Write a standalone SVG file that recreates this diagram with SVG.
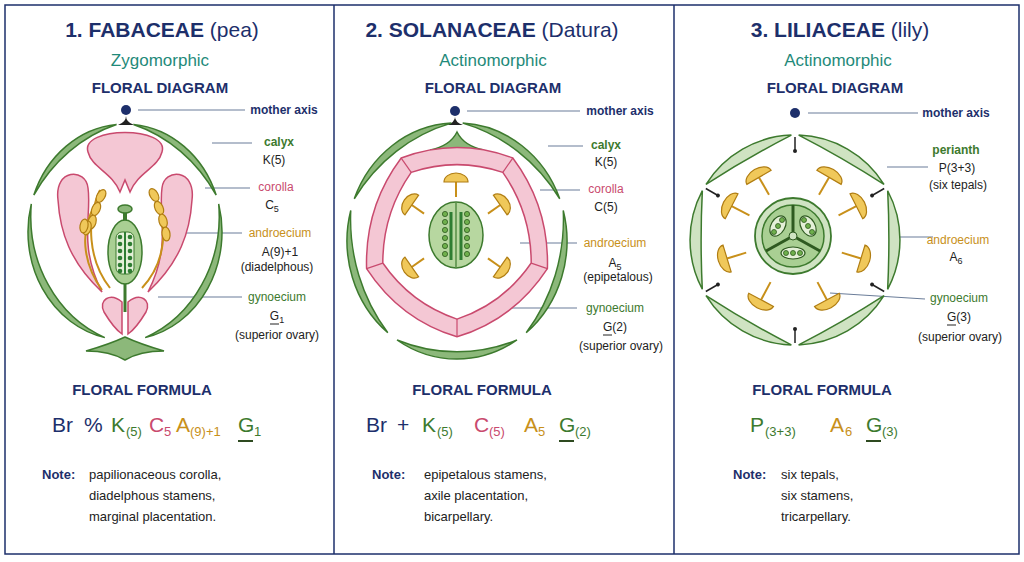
<svg xmlns="http://www.w3.org/2000/svg" width="1024" height="562" viewBox="0 0 1024 562">
<style>
text{font-family:"Liberation Sans",Arial,sans-serif}
.ttl{font-size:21px;font-weight:bold;fill:#1d2f6b;text-anchor:middle}
.sym{font-size:17px;fill:#1f8a7a;text-anchor:middle}
.fd{font-size:15px;font-weight:bold;fill:#1d2f6b;text-anchor:middle}
.lb{font-size:12px;text-anchor:middle}
.nv{fill:#1d2f6b}.gr{fill:#3d7a2e}.pk{fill:#c94a6e}.gd{fill:#c8901a}.bk{fill:#222}
.ld{stroke:#6b7d99;stroke-width:1.2;fill:none}
.cal{fill:#8cb87a;stroke:#3d7a2e;stroke-width:1.5;vector-effect:non-scaling-stroke}
.pet{fill:#f4c7d4;stroke:#c94a6e;stroke-width:1.5}
.anth{fill:#f0c85a;stroke:#b07d12;stroke-width:1.2}
.fil{stroke:#c8901a;stroke-width:2;fill:none}
.ov{fill:#2e7d32}
.ff{font-size:21px}.sb{font-size:13px}
.nt{font-size:13px;fill:#222}
.ntb{font-size:13px;font-weight:bold;fill:#1d2f6b}
</style>
<defs>
<path id="p3tep" class="cal" style="fill:#cfe3c2" d="M 3.7,-104.9 A 105 105 0 0 1 89,-55.6 A 1000 1000 0 0 0 3.7,-104.9 Z"/>
<g id="st2"><line class="fil" x1="0" y1="-54" x2="0" y2="-39"/><path class="anth" d="M -12,-54 A 12 9 0 0 1 12,-54 Z"/></g>
<g id="st3"><line class="fil" x1="0" y1="-70" x2="0" y2="-50"/><path class="anth" d="M -14,-70 A 14 9 0 0 1 14,-70 Z"/></g>
<g id="tick"><line x1="0" y1="-103" x2="0" y2="-89" stroke="#222" stroke-width="1.5"/><circle cx="0" cy="-89" r="2" fill="#222"/></g>
</defs>
<rect x="5" y="5" width="1014" height="549" fill="#fff" stroke="#1d2f6b" stroke-width="1.5"/>
<line x1="334" y1="5" x2="334" y2="554" stroke="#1d2f6b" stroke-width="1.5"/>
<line x1="674" y1="5" x2="674" y2="554" stroke="#1d2f6b" stroke-width="1.5"/>

<g id="connectors">
<line class="ld" x1="138" y1="110" x2="245" y2="110"/>
<line class="ld" x1="212" y1="143" x2="252" y2="143"/>
<line class="ld" x1="205" y1="188" x2="250" y2="188"/>
<line class="ld" x1="180" y1="233" x2="242" y2="233"/>
<line class="ld" x1="158" y1="297" x2="242" y2="297"/>
<line class="ld" x1="467" y1="111" x2="580" y2="111"/>
<line class="ld" x1="548" y1="146" x2="583" y2="146"/>
<line class="ld" x1="540" y1="190" x2="580" y2="190"/>
<line class="ld" x1="520" y1="243" x2="577" y2="243"/>
<line class="ld" x1="512" y1="308" x2="577" y2="308"/>
<line class="ld" x1="808" y1="113" x2="918" y2="113"/>
<line class="ld" x1="887" y1="167" x2="928" y2="167"/>
<line class="ld" x1="897" y1="237" x2="933" y2="237"/>
<line class="ld" x1="830" y1="293" x2="925" y2="299"/>
</g>

<!-- Panel 1 -->
<g id="panel1-title">
<text class="ttl" x="162" y="37">1. FABACEAE <tspan font-weight="normal">(pea)</tspan></text>
<text class="sym" x="160" y="66">Zygomorphic</text>
<text class="fd" x="160" y="93">FLORAL DIAGRAM</text>
</g>
<g id="p1-axis"><circle cx="126" cy="110" r="5" fill="#1d2f6b"/><path d="M 118,125 Q 126,122 126,116 Q 126,122 134,125 Z" fill="#222"/></g>
<g id="p1-calyx">
<g transform="translate(125,232) scale(0.97,1.08)">
<path class="cal" d="M 8.7,-99.6 A 100 100 0 0 1 94,-34.2 A 152 152 0 0 0 8.7,-99.6 Z"/>
<path class="cal" d="M -94,-34.2 A 100 100 0 0 1 -8.7,-99.6 A 152 152 0 0 0 -94,-34.2 Z"/>
<path class="cal" d="M 96.6,-25.9 A 100 100 0 0 1 20.8,97.8 A 121 121 0 0 0 96.6,-25.9 Z"/>
<path class="cal" d="M -20.8,97.8 A 100 100 0 0 1 -96.6,-25.9 A 121 121 0 0 0 -20.8,97.8 Z"/>
</g>
<path class="cal" d="M 86,351 Q 110,344 125,337 Q 140,344 164,351 Q 140,351 125,360 Q 110,351 86,351 Z"/>
</g>
<g id="p1-corolla">
<path class="pet" d="M 88,152 C 80,126 170,126 162,152 C 158,168 138,172 130,192 L 125,180 L 120,192 C 112,172 92,168 88,152 Z"/>
<path class="pet" d="M 58,200 C 54,168 86,168 88,188 C 92,215 78,245 102,292 C 70,262 60,232 58,200 Z"/>
<path class="pet" d="M 192,200 C 196,168 164,168 162,188 C 158,215 172,245 148,292 C 180,262 190,232 192,200 Z"/>
<path class="pet" d="M 122,302 C 110,292 98,300 104,312 C 110,322 116,330 122,334 Z"/>
<path class="pet" d="M 128,302 C 140,292 152,300 146,312 C 140,322 134,330 128,334 Z"/>
</g>
<g id="p1-androecium">
<path class="fil" d="M 100,190 C 86,220 88,260 110,288"/>
<path class="fil" d="M 95,205 C 80,230 82,262 102,290"/>
<ellipse class="anth" cx="101" cy="196" rx="4" ry="7" transform="rotate(30 101 196)"/>
<ellipse class="anth" cx="96" cy="209" rx="4" ry="7" transform="rotate(25 96 209)"/>
<ellipse class="anth" cx="92" cy="222" rx="4" ry="7" transform="rotate(15 92 222)"/>
<ellipse class="anth" cx="87" cy="228" rx="4" ry="7" transform="rotate(15 87 228)"/>
<ellipse class="anth" cx="84" cy="226" rx="4" ry="7" transform="rotate(10 84 226)"/>
<path class="fil" d="M 152,192 C 170,225 166,262 142,288"/>
<ellipse class="anth" cx="154" cy="195" rx="4" ry="7" transform="rotate(-30 154 195)"/>
<ellipse class="anth" cx="159" cy="208" rx="4" ry="7" transform="rotate(-25 159 208)"/>
<ellipse class="anth" cx="163" cy="221" rx="4" ry="7" transform="rotate(-15 163 221)"/>
<ellipse class="anth" cx="166" cy="234" rx="4" ry="7" transform="rotate(-8 166 234)"/>
</g>
<g id="p1-gynoecium">
<line x1="125" y1="212" x2="125" y2="225" stroke="#3d7a2e" stroke-width="4"/>
<ellipse cx="125" cy="209" rx="7" ry="4" class="cal"/>
<line x1="125" y1="282" x2="125" y2="312" stroke="#3d7a2e" stroke-width="3"/>
<ellipse cx="125" cy="252" rx="17" ry="32" fill="#a9cf93" stroke="#3d7a2e" stroke-width="1.5"/>
<rect x="116" y="232" width="18" height="42" rx="6" fill="#e4f0d8" stroke="#3d7a2e"/>
<line x1="125" y1="232" x2="125" y2="274" stroke="#2e7d32" stroke-width="2"/>
<g class="ov">
<circle cx="120" cy="237" r="2.3"/><circle cx="130" cy="237" r="2.3"/>
<circle cx="120" cy="244" r="2.3"/><circle cx="130" cy="244" r="2.3"/>
<circle cx="120" cy="251" r="2.3"/><circle cx="130" cy="251" r="2.3"/>
<circle cx="120" cy="258" r="2.3"/><circle cx="130" cy="258" r="2.3"/>
<circle cx="120" cy="265" r="2.3"/><circle cx="130" cy="265" r="2.3"/>
<circle cx="120" cy="271" r="2.3"/><circle cx="130" cy="271" r="2.3"/>
</g>
</g>
<g id="p1-labels">
<text class="lb nv" x="284" y="114" font-weight="bold">mother axis</text>
<text class="lb gr" x="279" y="146" font-weight="bold">calyx</text>
<text class="lb bk" x="274" y="164">K(5)</text>
<text class="lb pk" x="276" y="191">corolla</text>
<text class="lb bk" x="272" y="209">C<tspan font-size="9" dy="3">5</tspan></text>
<text class="lb gd" x="280" y="237">androecium</text>
<text class="lb bk" x="280" y="256">A(9)+1</text>
<text class="lb bk" x="277" y="271">(diadelphous)</text>
<text class="lb gr" x="277" y="301">gynoecium</text>
<text class="lb bk" x="277" y="320">G<tspan font-size="9" dy="3">1</tspan></text>
<line x1="270" y1="324" x2="279" y2="324" stroke="#222"/>
<text class="lb bk" x="277" y="339">(superior ovary)</text>
</g>
<g id="p1-formula">
<text class="fd" x="142" y="395">FLORAL FORMULA</text>
<text class="ff nv" x="52" y="432">Br</text>
<text class="ff nv" x="84" y="432">%</text>
<text class="ff gr" x="111" y="432">K</text><text class="sb gr" x="126" y="436">(5)</text>
<text class="ff pk" x="149" y="432">C</text><text class="sb pk" x="164" y="436">5</text>
<text class="ff gd" x="176" y="432">A</text><text class="sb gd" x="190" y="436">(9)+1</text>
<text class="ff gr" x="238" y="432">G</text><text class="sb gr" x="254" y="436">1</text>
<line x1="238" y1="441" x2="253" y2="441" stroke="#2e4a20" stroke-width="2"/>
<text class="ntb" x="42" y="479">Note:</text>
<text class="nt" x="89" y="479">papilionaceous corolla,</text>
<text class="nt" x="89" y="500">diadelphous stamens,</text>
<text class="nt" x="89" y="521">marginal placentation.</text>
</g>

<!-- Panel 2 -->
<g id="panel2-title">
<text class="ttl" x="492" y="37">2. SOLANACEAE <tspan font-weight="normal">(Datura)</tspan></text>
<text class="sym" x="493" y="66">Actinomorphic</text>
<text class="fd" x="493" y="93">FLORAL DIAGRAM</text>
</g>
<g id="p2-axis"><circle cx="455" cy="111" r="5" fill="#1d2f6b"/><path d="M 447,125 Q 455,122 455,117 Q 455,122 463,125 Z" fill="#222"/></g>
<g id="p2-calyx">
<g transform="translate(457,241) scale(1.1,1.18)">
<path class="cal" d="M 5.2,-99.9 A 100 100 0 0 1 93.4,-35.8 A 153 153 0 0 0 5.2,-99.9 Z"/>
<path class="cal" d="M 96.6,-25.9 A 100 100 0 0 1 62.9,77.7 A 153 153 0 0 0 96.6,-25.9 Z"/>
<path class="cal" d="M 54.5,83.9 A 100 100 0 0 1 -54.5,83.9 A 153 153 0 0 0 54.5,83.9 Z"/>
<path class="cal" d="M -62.9,77.7 A 100 100 0 0 1 -96.6,-25.9 A 153 153 0 0 0 -62.9,77.7 Z"/>
<path class="cal" d="M -93.4,-35.8 A 100 100 0 0 1 -5.2,-99.9 A 153 153 0 0 0 -93.4,-35.8 Z"/>
</g>
<path class="cal" d="M 430,150 Q 450,146 457,132 Q 464,146 484,150 Z"/>
</g>
<g id="p2-corolla" transform="translate(457,238) scale(1,1.04)">
<path class="pet" fill-rule="evenodd" d="M -55.8,-76.9 Q 0,-97 55.8,-76.9 Q 92.3,-30 90.4,29.4 Q 57,78.5 0,95 Q -57,78.5 -90.4,29.4 Q -92.3,-30 -55.8,-76.9 Z M -45.8,-63.1 Q 0,-78 45.8,-63.1 Q 74.2,-24.1 74.2,24.1 Q 46.3,63.1 0,78 Q -46.3,63.1 -74.2,24.1 Q -74.2,-24.1 -45.8,-63.1 Z"/>
<g stroke="#c94a6e" stroke-width="1.2">
<line x1="-55.8" y1="-76.9" x2="-45.8" y2="-63.1"/><line x1="55.8" y1="-76.9" x2="45.8" y2="-63.1"/>
<line x1="90.4" y1="29.4" x2="74.2" y2="24.1"/><line x1="-90.4" y1="29.4" x2="-74.2" y2="24.1"/>
<line x1="0" y1="95" x2="0" y2="78"/>
</g>
</g>
<g id="p2-androecium" transform="translate(456,236)">
<use href="#st2"/>
<use href="#st2" transform="rotate(55)"/>
<use href="#st2" transform="rotate(125)"/>
<use href="#st2" transform="rotate(235)"/>
<use href="#st2" transform="rotate(305)"/>
</g>
<g id="p2-gynoecium">
<ellipse cx="456" cy="235" rx="27" ry="33" fill="#b7d7a0" stroke="#3d7a2e" stroke-width="1.5"/>
<line x1="456" y1="203" x2="456" y2="267" stroke="#3d7a2e" stroke-width="1.2"/>
<line x1="451" y1="212" x2="451" y2="260" stroke="#2e7d32" stroke-width="3"/>
<line x1="461" y1="212" x2="461" y2="260" stroke="#2e7d32" stroke-width="3"/>
<g stroke="#2e5a20" stroke-width="0.8" fill="#6fb04d">
<circle cx="445" cy="214" r="2.6"/><circle cx="445" cy="222" r="2.6"/><circle cx="445" cy="230" r="2.6"/><circle cx="445" cy="238" r="2.6"/><circle cx="445" cy="246" r="2.6"/><circle cx="445" cy="254" r="2.6"/>
<circle cx="467" cy="214" r="2.6"/><circle cx="467" cy="222" r="2.6"/><circle cx="467" cy="230" r="2.6"/><circle cx="467" cy="238" r="2.6"/><circle cx="467" cy="246" r="2.6"/><circle cx="467" cy="254" r="2.6"/>
</g>
</g>
<g id="p2-labels">
<text class="lb nv" x="620" y="115" font-weight="bold">mother axis</text>
<text class="lb gr" x="606" y="149" font-weight="bold">calyx</text>
<text class="lb bk" x="606" y="166">K(5)</text>
<text class="lb pk" x="606" y="193">corolla</text>
<text class="lb bk" x="606" y="211">C(5)</text>
<text class="lb gd" x="615" y="247">androecium</text>
<text class="lb bk" x="615" y="267">A<tspan font-size="9" dy="3">5</tspan></text>
<text class="lb bk" x="618" y="281">(epipetalous)</text>
<text class="lb gr" x="615" y="312">gynoecium</text>
<text class="lb bk" x="615" y="331">G(2)</text>
<line x1="603" y1="335" x2="612" y2="335" stroke="#222"/>
<text class="lb bk" x="621" y="350">(superior ovary)</text>
</g>
<g id="p2-formula">
<text class="fd" x="482" y="395">FLORAL FORMULA</text>
<text class="ff nv" x="366" y="432">Br</text>
<text class="ff nv" x="397" y="432">+</text>
<text class="ff gr" x="422" y="432">K</text><text class="sb gr" x="437" y="436">(5)</text>
<text class="ff pk" x="474" y="432">C</text><text class="sb pk" x="489" y="436">(5)</text>
<text class="ff gd" x="524" y="432">A</text><text class="sb gd" x="538" y="436">5</text>
<text class="ff gr" x="559" y="432">G</text><text class="sb gr" x="575" y="436">(2)</text>
<line x1="559" y1="441" x2="574" y2="441" stroke="#2e4a20" stroke-width="2"/>
<text class="ntb" x="372" y="479">Note:</text>
<text class="nt" x="424" y="479">epipetalous stamens,</text>
<text class="nt" x="424" y="500">axile placentation,</text>
<text class="nt" x="424" y="521">bicarpellary.</text>
</g>

<!-- Panel 3 -->
<g id="panel3-title">
<text class="ttl" x="840" y="37">3. LILIACEAE <tspan font-weight="normal">(lily)</tspan></text>
<text class="sym" x="838" y="66">Actinomorphic</text>
<text class="fd" x="835" y="93">FLORAL DIAGRAM</text>
</g>
<g id="p3-axis"><circle cx="795" cy="113" r="5" fill="#1d2f6b"/></g>
<g id="p3-perianth" transform="translate(795,240)">
<use href="#p3tep"/><use href="#p3tep" transform="rotate(60)"/><use href="#p3tep" transform="rotate(120)"/>
<use href="#p3tep" transform="rotate(180)"/><use href="#p3tep" transform="rotate(240)"/><use href="#p3tep" transform="rotate(300)"/>
<use href="#tick"/><use href="#tick" transform="rotate(60)"/><use href="#tick" transform="rotate(120)"/>
<use href="#tick" transform="rotate(180)"/><use href="#tick" transform="rotate(240)"/><use href="#tick" transform="rotate(300)"/>
</g>
<g id="p3-androecium" transform="translate(794,238)">
<use href="#st3" transform="rotate(-30)"/><use href="#st3" transform="rotate(30)"/>
<use href="#st3" transform="rotate(-63)"/><use href="#st3" transform="rotate(63)"/>
<use href="#st3" transform="rotate(-107)"/><use href="#st3" transform="rotate(107)"/>
<use href="#st3" transform="rotate(-152)"/><use href="#st3" transform="rotate(152)"/>
</g>
<g id="p3-gynoecium">
<circle cx="793" cy="236" r="38" fill="#cfe3c2" stroke="#3d7a2e" stroke-width="1.8"/>
<circle cx="793" cy="236" r="31" fill="#a9cf93" stroke="#3d7a2e" stroke-width="1.5"/>
<line x1="793" y1="236" x2="793" y2="205" stroke="#2e5a20" stroke-width="3"/>
<line x1="793" y1="236" x2="766" y2="251" stroke="#2e5a20" stroke-width="3"/>
<line x1="793" y1="236" x2="820" y2="251" stroke="#2e5a20" stroke-width="3"/>
<circle cx="793" cy="236" r="4" fill="#cfe3c2" stroke="#2e5a20"/>
<g fill="#e4f0d8" stroke="#2e5a20" stroke-width="1.2">
<ellipse cx="808" cy="226" rx="11" ry="7" transform="rotate(60 808 226)"/>
<ellipse cx="778" cy="226" rx="11" ry="7" transform="rotate(-60 778 226)"/>
<ellipse cx="793" cy="253" rx="12" ry="6"/>
</g>
<g fill="#6fb04d" stroke="#2e5a20" stroke-width="0.8">
<circle cx="804" cy="220" r="2.5"/><circle cx="808" cy="226" r="2.5"/><circle cx="812" cy="232" r="2.5"/>
<circle cx="782" cy="220" r="2.5"/><circle cx="778" cy="226" r="2.5"/><circle cx="774" cy="232" r="2.5"/>
<circle cx="786" cy="253" r="2.5"/><circle cx="793" cy="253" r="2.5"/><circle cx="800" cy="253" r="2.5"/>
</g>
</g>
<g id="p3-labels">
<text class="lb nv" x="956" y="117" font-weight="bold">mother axis</text>
<text class="lb gr" x="956" y="154" font-weight="bold">perianth</text>
<text class="lb bk" x="957" y="172">P(3+3)</text>
<text class="lb bk" x="958" y="189">(six tepals)</text>
<text class="lb gd" x="958" y="244">androecium</text>
<text class="lb bk" x="956" y="261">A<tspan font-size="9" dy="3">6</tspan></text>
<text class="lb gr" x="959" y="302">gynoecium</text>
<text class="lb bk" x="959" y="321">G(3)</text>
<line x1="947" y1="325" x2="956" y2="325" stroke="#222"/>
<text class="lb bk" x="960" y="341">(superior ovary)</text>
</g>
<g id="p3-formula">
<text class="fd" x="822" y="395">FLORAL FORMULA</text>
<text class="ff gr" x="750" y="432">P</text><text class="sb gr" x="765" y="436">(3+3)</text>
<text class="ff gd" x="830" y="432">A</text><text class="sb gd" x="845" y="436">6</text>
<text class="ff gr" x="866" y="432">G</text><text class="sb gr" x="882" y="436">(3)</text>
<line x1="866" y1="441" x2="881" y2="441" stroke="#2e4a20" stroke-width="2"/>
<text class="ntb" x="733" y="479">Note:</text>
<text class="nt" x="781" y="479">six tepals,</text>
<text class="nt" x="781" y="500">six stamens,</text>
<text class="nt" x="781" y="521">tricarpellary.</text>
</g>
</svg>
